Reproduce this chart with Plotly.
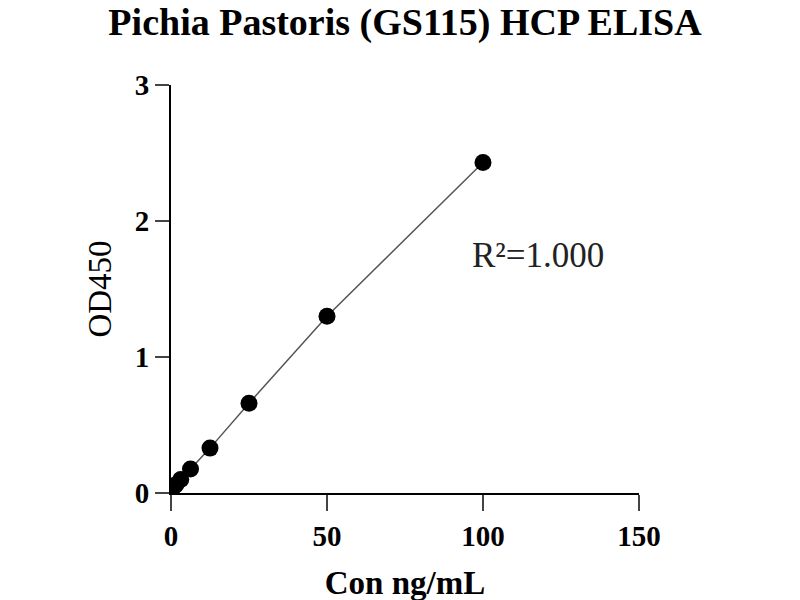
import plotly.graph_objects as go

# standard curve
conc = [0, 0.78, 1.56, 3.125, 6.25, 12.5, 25, 50, 100]
od450 = [0.03, 0.045, 0.06, 0.10, 0.176, 0.33, 0.66, 1.30, 2.43]

x_ticks = [0, 50, 100, 150]
y_ticks = [0, 1, 2, 3]

serif = "Liberation Serif"

fig = go.Figure()
fig.add_trace(go.Scatter(
    x=conc, y=od450, mode="lines+markers",
    line=dict(color="#555555", width=1.5),
    marker=dict(color="black", size=17),
    showlegend=False))

fig.add_annotation(x=117.5, y=1.75, xref="x", yref="y", text="R²=1.000",
                   showarrow=False, xanchor="center", yanchor="middle",
                   font=dict(family=serif, size=35, color="#222222"))

fig.update_layout(
    width=800, height=600,
    paper_bgcolor="white", plot_bgcolor="white",
    margin=dict(l=163, r=169, t=77, b=115),
    title=dict(text="<b>Pichia Pastoris (GS115) HCP ELISA</b>",
               x=0.5, xref="paper", xanchor="center", y=0.977, yanchor="middle",
               font=dict(family=serif, size=38, color="black")),
    xaxis=dict(range=[0, 150], tickvals=x_ticks, ticks="outside", ticklen=16,
               tickwidth=2, showline=True, linewidth=2, linecolor="black",
               showgrid=False, zeroline=False,
               tickfont=dict(family=serif, size=29, color="black", weight="bold"),
               title=dict(text="Con ng/mL", standoff=20,
                          font=dict(family=serif, size=33, color="black", weight="bold"))),
    yaxis=dict(range=[0, 3], tickvals=y_ticks, ticks="outside", ticklen=14,
               tickwidth=2, showline=True, linewidth=2, linecolor="black",
               showgrid=False, zeroline=False,
               tickfont=dict(family=serif, size=29, color="black", weight="bold"),
               title=dict(text="OD450", standoff=13,
                          font=dict(family=serif, size=33, color="black"))),
)

fig.write_html("out.html")
